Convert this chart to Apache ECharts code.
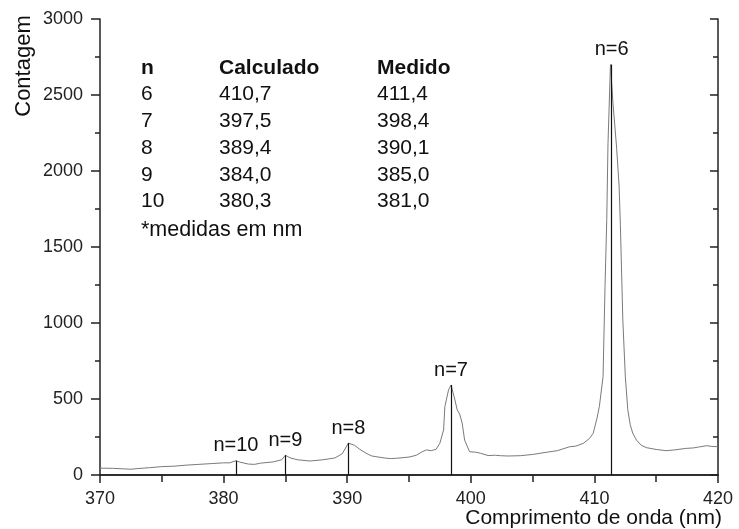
<!DOCTYPE html>
<html>
<head>
<meta charset="utf-8">
<script src="https://cdn.jsdelivr.net/npm/echarts@6/dist/echarts.min.js"></script>
<style>
  html, body { margin: 0; padding: 0; background: #fff; }
  #chart { width: 739px; height: 529px; }
</style>
</head>
<body>
<div id="chart"></div>
<script>
// espectro (nm, contagem)
var wavelength = [370, 371, 372, 372.5, 373, 374, 375, 376, 377, 378, 379, 380, 380.5, 381, 381.3, 382, 382.5, 383, 384, 384.7, 385, 385.4, 386, 387, 388, 389, 389.6, 390.1, 390.6, 391, 391.6, 392, 393, 393.5, 394, 395, 395.6, 396, 396.4, 396.8, 397.2, 397.5, 397.8, 397.9, 398.2, 398.4, 398.7, 398.9, 399.1, 399.3, 399.5, 399.9, 400.4, 400.8, 401.4, 402, 402.4, 403, 404, 405, 406, 407, 408, 408.5, 409.1, 409.6, 409.9, 410.2, 410.4, 410.7, 410.86, 411.0, 411.1, 411.3, 411.5, 411.8, 412.0, 412.1, 412.3, 412.5, 412.7, 412.9, 413.1, 413.4, 413.8, 414.2, 415, 415.8, 416.5, 417.4, 418, 418.5, 419.1, 419.5, 420];
var counts = [45, 44, 40, 38, 42, 48, 55, 58, 65, 70, 75, 80, 80, 94, 85, 72, 70, 78, 86, 100, 130, 112, 100, 92, 100, 112, 140, 210, 195, 170, 140, 125, 112, 108, 110, 118, 130, 150, 165, 160, 170, 210, 296, 450, 560, 592, 500, 428, 400, 342, 230, 153, 150, 143, 128, 130, 127, 125, 127, 135, 148, 160, 186, 190, 208, 240, 274, 370, 450, 647, 1240, 1680, 2180, 2700, 2450, 2150, 1900, 1650, 1020, 650, 430, 330, 276, 230, 195, 180, 168, 160, 165, 175, 178, 185, 193, 188, 186];

// linhas medidas
var lineN = ['n=10', 'n=9', 'n=8', 'n=7', 'n=6'];
var lineX = [381.0, 385.0, 390.1, 398.4, 411.4];
var lineTop = [94, 130, 210, 592, 2700];

// tabela
var tabN = ['6', '7', '8', '9', '10'];
var tabCalc = ['410,7', '397,5', '389,4', '384,0', '380,3'];
var tabMed = ['411,4', '398,4', '390,1', '385,0', '381,0'];

var xTicks = [370, 380, 390, 400, 410, 420];
var yTicks = [0, 500, 1000, 1500, 2000, 2500, 3000];

var font = 'Liberation Sans';
var chart = echarts.init(document.getElementById('chart'));

var seriesData = wavelength.map(function (w, i) { return [w, counts[i]]; });

var markData = lineX.map(function (x, i) {
  return [
    { coord: [x, 0] },
    { coord: [x, lineTop[i]], label: { formatter: lineN[i] } }
  ];
});

function txt(x, y, s, opt) {
  opt = opt || {};
  return {
    type: 'text', x: x, y: y, rotation: opt.rotation || 0,
    style: {
      text: s, fontSize: opt.size || 21, fontFamily: font,
      fontWeight: opt.bold ? 'bold' : 'normal', fill: '#111',
      align: opt.align || 'left', verticalAlign: 'middle'
    }
  };
}

// textos da tabela
var graphics = [];
var rowY = 68;
var rowH = 26.7;
var colX = [141, 219, 377];
graphics.push(txt(colX[0], rowY, 'n', { bold: true }));
graphics.push(txt(colX[1], rowY, 'Calculado', { bold: true }));
graphics.push(txt(colX[2], rowY, 'Medido', { bold: true }));
tabN.forEach(function (n, i) {
  var y = rowY + rowH * (i + 1);
  graphics.push(txt(colX[0], y, n));
  graphics.push(txt(colX[1], y, tabCalc[i]));
  graphics.push(txt(colX[2], y, tabMed[i]));
});
graphics.push(txt(colX[0], rowY + rowH * 6 + 2, '*medidas em nm', { size: 21.5 }));
// nomes dos eixos
graphics.push(txt(24, 66, 'Contagem', { rotation: Math.PI / 2, align: 'center', size: 22 }));
graphics.push(txt(722, 518, 'Comprimento de onda (nm)', { align: 'right', size: 21 }));

var axisLine = { show: true, lineStyle: { color: '#222', width: 1.5 } };
var tickStyle = { color: '#222', width: 1.5 };
var plain = function (v) { return String(v); };

var options = {
  backgroundColor: '#fff',
  animation: false,
  grid: { left: 100, right: 21, top: 19, bottom: 54, containLabel: false },
  xAxis: [{
    type: 'value',
    position: 'bottom',
    min: xTicks[0],
    max: xTicks[xTicks.length - 1],
    interval: 10,
    axisLine: axisLine,
    axisTick: { show: true, inside: false, length: 8, lineStyle: tickStyle },
    minorTick: { show: true, splitNumber: 2, length: 6, lineStyle: tickStyle },
    axisLabel: { color: '#222', fontSize: 18, fontFamily: font, margin: 15, formatter: plain },
    splitLine: { show: false }
  }, {
    type: 'value',
    position: 'top',
    min: xTicks[0],
    max: xTicks[xTicks.length - 1],
    interval: 10,
    axisLine: axisLine,
    axisTick: { show: true, inside: true, length: 7, lineStyle: tickStyle },
    minorTick: { show: true, splitNumber: 2, length: 7, lineStyle: tickStyle },
    axisLabel: { show: false },
    splitLine: { show: false }
  }],
  yAxis: [{
    type: 'value',
    position: 'left',
    min: yTicks[0],
    max: yTicks[yTicks.length - 1],
    interval: 500,
    axisLine: axisLine,
    axisTick: { show: true, inside: false, length: 9, lineStyle: tickStyle },
    minorTick: { show: true, splitNumber: 2, length: 5, lineStyle: tickStyle },
    axisLabel: { color: '#222', fontSize: 18, fontFamily: font, margin: 17, formatter: plain },
    splitLine: { show: false }
  }, {
    type: 'value',
    position: 'right',
    min: yTicks[0],
    max: yTicks[yTicks.length - 1],
    interval: 500,
    axisLine: axisLine,
    axisTick: { show: true, inside: true, length: 8, lineStyle: tickStyle },
    minorTick: { show: true, splitNumber: 2, length: 5, lineStyle: tickStyle },
    axisLabel: { show: false },
    splitLine: { show: false }
  }],
  series: [{
    type: 'line',
    data: seriesData,
    showSymbol: false,
    symbol: 'none',
    lineStyle: { color: '#7a7a7a', width: 1 },
    markLine: {
      silent: true,
      symbol: ['none', 'none'],
      lineStyle: { color: '#111', width: 1.2, type: 'solid' },
      label: { show: true, position: 'end', distance: 5, color: '#111', fontSize: 20, fontFamily: font },
      data: markData
    }
  }],
  graphic: graphics
};

chart.setOption(options);
</script>
</body>
</html>
